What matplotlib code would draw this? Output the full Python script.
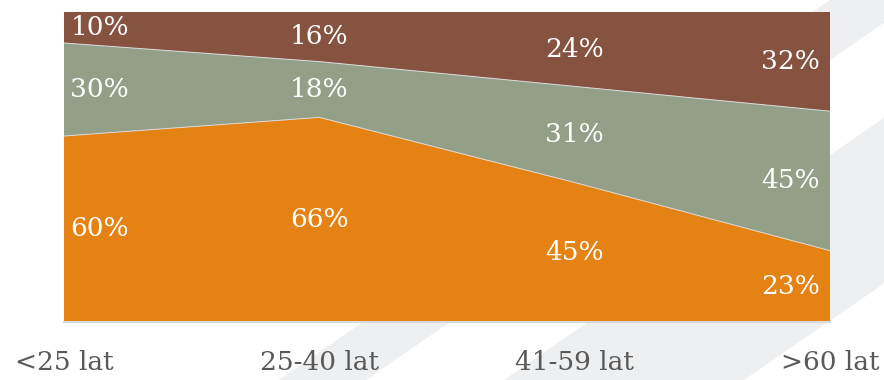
import numpy as np
import matplotlib
matplotlib.use('Agg')
import matplotlib.pyplot as plt
from matplotlib.patches import Polygon

# dane
categories = ['<25 lat', '25-40 lat', '41-59 lat', '>60 lat']
share_bottom = [60, 66, 45, 23]   # pomarańczowy
share_middle = [30, 18, 31, 45]   # zielony
share_top = [10, 16, 24, 32]      # brązowy

colors = ['#E48213', '#949F87', '#865340']
W, H = 884, 380

fig = plt.figure(figsize=(W / 100, H / 100), dpi=100)
fig.patch.set_facecolor('white')

# dekoracyjne ukośne pasy w tle (x + k*y = c, w pikselach)
k = 1.45
for c0, c1 in [(830, 917), (1055, 1295)]:
    pts = [(c0, 0), (c1, 0), (c1 - k * H, H), (c0 - k * H, H)]
    pts = [(x / W, 1 - y / H) for x, y in pts]
    fig.patches.append(Polygon(pts, closed=True, transform=fig.transFigure,
                               facecolor='#EEEFF1', edgecolor='none', zorder=-10))

ax = fig.add_axes([64 / W, 1 - 322 / H, (830 - 64) / W, (322 - 12) / H])
ax.set_zorder(5)
ax.patch.set_alpha(0)

x = np.arange(len(categories))
series = [share_bottom, share_middle, share_top]
ax.stackplot(x, *series, colors=colors, linewidth=0)

# cienkie jasne linie między pasami
cum = np.cumsum(series, axis=0)
for row in cum[:-1]:
    ax.plot(x, row, color='#DADADA', lw=0.7)

ax.set_xlim(x[0], x[-1])
ax.set_ylim(0, 100)

# etykiety procentowe w środku każdego pasa
base = np.zeros(len(categories))
for vals in series:
    vals = np.array(vals)
    mids = base + vals / 2
    for i, (v, m) in enumerate(zip(vals, mids)):
        if i == 0:
            ha, xx = 'left', x[i] + 0.025
        elif i == len(categories) - 1:
            ha, xx = 'right', x[i] - 0.04
        else:
            ha, xx = 'center', x[i]
        ax.text(xx, m, f'{v}%', ha=ha, va='center', color='white',
                fontsize=19, family='DejaVu Serif')
    base += vals

ax.set_xticks(x)
ax.set_xticklabels(categories, fontsize=19, family='DejaVu Serif', color='#595959')
ax.tick_params(axis='x', length=0, pad=20)
ax.set_yticks([])
for s in ['top', 'left', 'right']:
    ax.spines[s].set_visible(False)
ax.spines['bottom'].set_color('#D9D9D9')
ax.spines['bottom'].set_linewidth(1.5)

fig.savefig('out.png', dpi=100)
